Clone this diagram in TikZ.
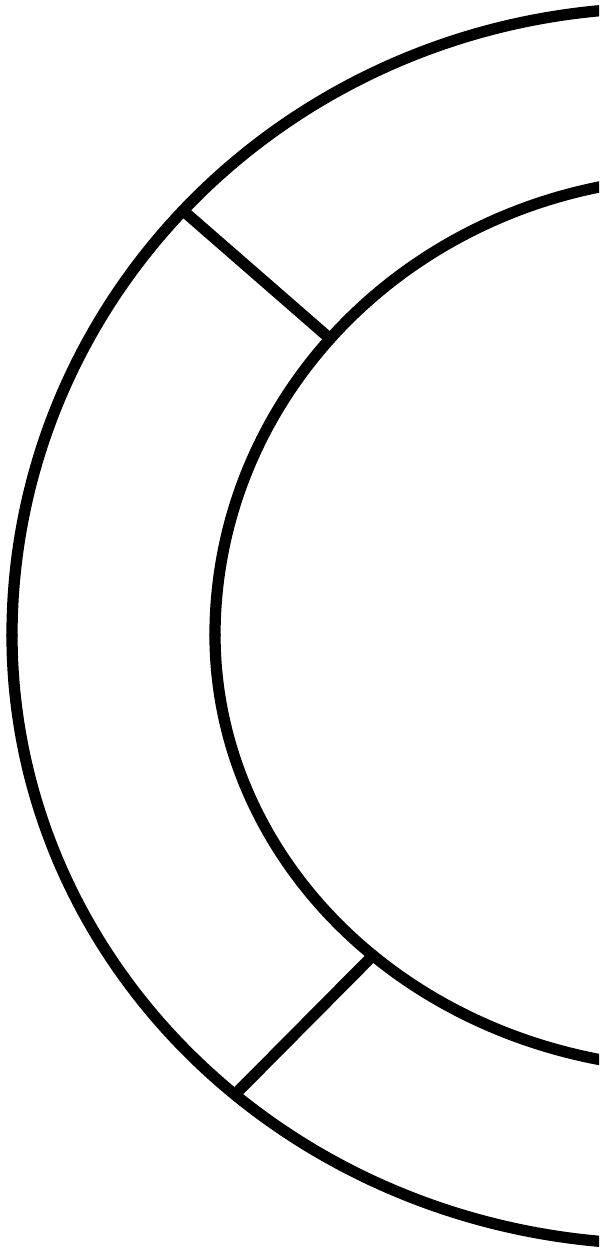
\documentclass[tikz,border=0pt]{standalone}
\usetikzlibrary{calc}

\newcommand\ringcx{660}
\newcommand\ringcy{613}
\newcommand\outerrx{648}
\newcommand\innerrx{485}
\newcommand\innercx{700}
\tikzset{rimline/.style={line width=3.2pt, line cap=round, line join=round}}

\begin{document}
\begin{tikzpicture}[x=0.01cm, y=0.01cm]
    \useasboundingbox (0,0) rectangle (599,1248);
    \clip (0,0) rectangle (599,1248);
    % outer rim, upper and lower half
    \draw[rimline] (\ringcx - \outerrx, \ringcy)
       arc [start angle=180, end angle=80, x radius=\outerrx, y radius=627];
    \draw[rimline] (\ringcx - \outerrx, \ringcy)
       arc [start angle=180, end angle=280, x radius=\outerrx, y radius=609];
    % inner rim
    \draw[rimline] (\innercx - \innerrx, \ringcy)
       arc [start angle=180, end angle=80, x radius=\innerrx, y radius=458];
    \draw[rimline] (\innercx - \innerrx, \ringcy)
       arc [start angle=180, end angle=280, x radius=\innerrx, y radius=434];
    % joints
    \coordinate (outerup) at ($(\ringcx, \ringcy) + (137.4:{\outerrx} and 627)$);
    \coordinate (innerup) at ($(\innercx, \ringcy) + (139.7:{\innerrx} and 458)$);
    \coordinate (outerlow) at ($(\ringcx, \ringcy) + (229.0:{\outerrx} and 609)$);
    \coordinate (innerlow) at ($(\innercx, \ringcy) + (227.6:{\innerrx} and 434)$);
    \draw[rimline] (outerup) -- (innerup) ;
    \draw[rimline] (innerlow) -- (outerlow) ;
\end{tikzpicture}
\end{document}
